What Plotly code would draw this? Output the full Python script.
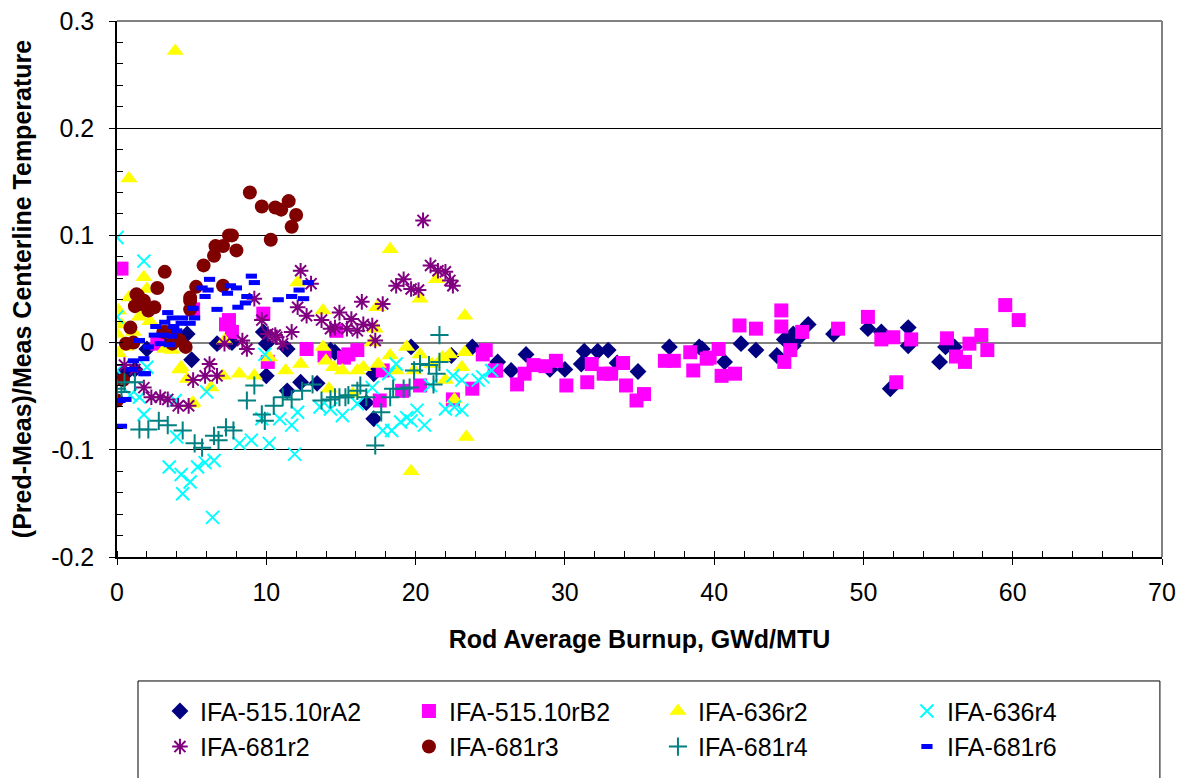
import plotly.graph_objects as go

# Rod average burnup (GWd/MTU) and (Pred-Meas)/Meas centerline temperature per rod
a2_burnup = [0.5, 1.2, 2.0, 3.0, 4.7, 5.0, 6.7, 7.7, 9.8, 10.0, 11.4, 10.0, 11.4, 12.3, 13.4, 14.6,
             14.3, 16.7, 17.2, 17.2, 19.7, 22.4, 23.8, 25.5, 26.4, 27.4, 29.0, 30.0, 31.1, 31.3,
             32.2, 32.9, 33.5, 34.9, 37.0, 39.0, 39.2, 40.7, 41.8, 42.8, 44.2, 44.7, 45.3, 45.3,
             45.7, 46.3, 48.0, 50.3, 51.2, 51.8, 53.0, 53.0, 55.1, 55.5, 56.1]
a2_error = [-0.03, -0.025, -0.006, 0.0, 0.008, -0.016, -0.001, 0.0, 0.01, -0.001, -0.006, -0.031,
            -0.045, -0.037, -0.038, -0.009, -0.007, -0.056, -0.029, -0.071, -0.004, -0.012, -0.004,
            -0.018, -0.026, -0.011, -0.025, -0.025, -0.02, -0.008, -0.008, -0.007, -0.019, -0.027,
            -0.004, -0.004, -0.006, -0.018, -0.001, -0.007, -0.012, 0.003, 0.008, -0.003, 0.005,
            0.017, 0.008, 0.013, 0.01, -0.043, 0.014, -0.003, -0.018, -0.004, -0.004]

b2_burnup = [0.3, 2.7, 5.1, 7.3, 7.5, 7.7, 9.8, 10.1, 12.7, 13.9, 14.7, 15.2, 15.5, 16.1, 17.6, 17.8,
             19.1, 20.3, 22.5, 23.8, 24.5, 24.7, 25.3, 25.4, 26.8, 27.3, 27.9, 28.7, 29.4, 30.1,
             31.5, 31.8, 32.6, 33.1, 33.9, 34.1, 34.8, 35.3, 36.7, 37.3, 38.4, 38.6, 39.5, 39.7,
             40.3, 40.5, 41.4, 41.7, 42.8, 44.5, 44.5, 44.7, 45.1, 45.9, 48.3, 50.3, 51.2, 52.0,
             52.2, 53.2, 55.6, 56.2, 56.8, 57.1, 57.9, 58.3, 59.5, 60.4]
b2_error = [0.069, -0.001, 0.031, 0.017, 0.021, 0.01, 0.027, -0.018, -0.006, -0.012, 0.011, -0.014,
            -0.011, -0.007, -0.054, -0.026, -0.045, -0.04, -0.053, -0.043, -0.011, -0.007, -0.026,
            -0.026, -0.039, -0.029, -0.021, -0.022, -0.017, -0.04, -0.037, -0.02, -0.029, -0.029,
            -0.019, -0.04, -0.054, -0.048, -0.017, -0.017, -0.009, -0.026, -0.015, -0.014, -0.006,
            -0.031, -0.029, 0.016, 0.013, 0.03, 0.015, -0.018, -0.007, 0.01, 0.013, 0.024, 0.003,
            0.005, -0.037, 0.003, 0.004, -0.013, -0.018, -0.001, 0.007, -0.007, 0.035, 0.021]

r636_2_burnup = [3.9, 0.8, 1.8, 0.8, 0.0, 0.1, 0.3, 1.5, 2.2, 3.2, 3.7, 4.3, 5.0, 4.7, 6.3, 7.1,
                 8.2, 9.2, 10.2, 11.3, 12.1, 13.8, 12.3, 13.8, 14.0, 15.1, 14.2, 16.1, 7.2, 4.2,
                 5.1, 18.3, 20.3, 21.4, 17.4, 23.3, 17.3, 17.1, 19.4, 18.3, 23.3, 22.3, 21.8, 20.3,
                 14.5, 16.5, 17.5, 18.7, 19.9, 21.1, 22.0, 23.1, 22.6, 23.4, 19.7, 15.8,
                 0.1, 1.1, 2.0, 0.6]
r636_2_error = [0.272, 0.153, 0.061, 0.042, 0.008, -0.01, 0.017, 0.024, 0.02, -0.006, -0.007, -0.023,
                -0.057, -0.034, -0.042, -0.031, -0.029, -0.031, -0.014, -0.026, 0.056, 0.03, -0.02,
                -0.004, -0.017, -0.026, -0.043, -0.026, 0.002, -0.025, -0.056, 0.087, 0.041, 0.059,
                0.033, 0.025, 0.013, 0.0, -0.004, -0.012, -0.009, -0.011, -0.014, -0.011, -0.023,
                -0.023, -0.02, -0.026, -0.026, -0.02, -0.035, -0.023, -0.053, -0.088, -0.12, -0.048,
                0.03, 0.01, 0.05, -0.004]

r636_4_burnup = [0.0, 1.8, 0.0, 2.0, 0.0, 0.9, 1.5, 1.8, 3.9, 4.0, 6.0, 3.5, 4.3, 4.9, 5.4, 5.9,
                 6.5, 4.4, 6.4, 8.2, 9.0, 10.2, 11.9, 9.7, 10.9, 11.7, 12.1, 9.9, 13.6, 15.1, 14.3,
                 16.1, 17.1, 17.8, 18.4, 18.7, 18.2, 19.0, 19.4, 19.7, 20.1, 20.6, 21.0, 22.0, 22.6,
                 23.1, 22.5, 23.1, 24.2, 24.5, 25.1]
r636_4_error = [0.098, 0.076, 0.024, -0.023, -0.026, -0.049, -0.051, -0.067, -0.054, -0.088, -0.046,
                -0.116, -0.123, -0.13, -0.116, -0.112, -0.11, -0.141, -0.163, -0.094, -0.091, -0.094,
                -0.104, -0.071, -0.071, -0.077, -0.065, -0.011, -0.06, -0.068, -0.062, -0.057,
                -0.042, -0.082, -0.082, -0.02, -0.029, -0.074, -0.07, -0.073, -0.063, -0.077, -0.04,
                -0.062, -0.06, -0.063, -0.031, -0.035, -0.035, -0.032, -0.026]

r681_2_burnup = [20.5, 21.0, 21.5, 22.0, 22.3, 22.5, 19.2, 18.7, 19.7, 20.2, 16.4, 17.8, 14.9, 15.7,
                 16.5, 17.1, 14.6, 15.4, 16.1, 17.3, 12.3, 13.0, 9.2, 12.1, 12.7, 13.7, 14.3, 11.7,
                 9.7, 10.1, 10.7, 11.1, 8.4, 8.7, 7.2, 6.2, 5.1, 5.9, 6.7, 0.5, 1.2, 1.8, 2.3, 2.9,
                 3.4, 4.1, 4.8, 0.0, 10.6]
r681_2_error = [0.114, 0.072, 0.067, 0.066, 0.058, 0.053, 0.059, 0.053, 0.05, 0.049, 0.038, 0.036,
                0.028, 0.022, 0.017, 0.016, 0.014, 0.013, 0.011, 0.002, 0.067, 0.055, 0.041, 0.033,
                0.025, 0.021, 0.013, 0.01, 0.021, 0.008, 0.005, -0.001, 0.002, -0.006, -0.001, -0.02,
                -0.035, -0.031, -0.031, -0.021, -0.025, -0.042, -0.051, -0.051, -0.053, -0.059,
                -0.059, -0.035, 0.007]

r681_3_burnup = [8.9, 9.7, 10.6, 11.0, 11.5, 12.0, 11.7, 10.3, 7.5, 7.7, 6.6, 7.1, 6.5, 8.0, 5.8, 3.2,
                 2.7, 5.3, 7.1, 4.9, 1.3, 1.4, 1.8, 1.2, 2.1, 2.5, 4.9, 4.9, 0.9, 0.6, 0.0, 0.4, 4.2,
                 4.6, 3.9, 3.3, 1.1, 1.6, 3.7, 3.1]
r681_3_error = [0.14, 0.127, 0.126, 0.124, 0.132, 0.119, 0.108, 0.096, 0.1, 0.1, 0.09, 0.09, 0.081,
                0.086, 0.072, 0.066, 0.051, 0.052, 0.053, 0.042, 0.045, 0.044, 0.039, 0.034, 0.03,
                0.033, 0.039, 0.031, 0.014, -0.001, -0.054, -0.035, 0.002, -0.004, 0.007, 0.01, 0.0,
                0.036, -0.001, 0.01]

r681_4_burnup = [0.0, 0.5, 1.2, 0.3, 1.5, 2.1, 2.8, 3.4, 4.4, 5.2, 5.7, 6.5, 6.8, 7.3, 7.8, 8.7, 9.2,
                 9.7, 9.9, 10.5, 11.1, 11.7, 12.4, 13.1, 13.7, 14.3, 14.9, 15.5, 16.1, 14.6, 15.3,
                 16.3, 16.7, 17.7, 17.3, 18.3, 18.5, 19.2, 19.6, 19.9, 20.3, 20.9, 21.4, 21.6, 21.2,
                 21.6]
r681_4_error = [-0.043, -0.037, -0.037, -0.046, -0.081, -0.081, -0.073, -0.077, -0.082, -0.094,
                -0.098, -0.087, -0.091, -0.079, -0.082, -0.054, -0.04, -0.067, -0.073, -0.059, -0.051,
                -0.053, -0.045, -0.039, -0.054, -0.053, -0.051, -0.049, -0.045, -0.051, -0.051, -0.04,
                -0.051, -0.065, -0.096, -0.051, -0.043, -0.043, -0.042, -0.026, -0.02, -0.021, -0.029,
                -0.018, -0.039, 0.007]

r681_6_burnup = [6.2, 9.0, 9.2, 5.7, 6.1, 5.9, 7.6, 8.0, 7.4, 8.7, 10.8, 11.7, 12.5, 12.2, 12.8, 6.7,
                 8.6, 8.1, 3.4, 3.7, 3.2, 4.4, 4.9, 4.3, 5.2, 2.6, 3.8, 4.0, 2.5, 3.1, 3.7, 2.9, 3.5,
                 2.1, 1.5, 1.8, 1.1, 1.8, 1.9, 1.0, 0.2, 0.6, 0.3, 5.1]
r681_6_error = [0.059, 0.062, 0.056, 0.051, 0.049, 0.043, 0.053, 0.051, 0.046, 0.043, 0.04, 0.043,
                0.041, 0.049, 0.056, 0.031, 0.037, 0.033, 0.028, 0.023, 0.019, 0.023, 0.018, 0.018,
                0.023, 0.015, 0.015, 0.011, 0.007, 0.007, 0.006, -0.001, -0.002, -0.004, 0.002,
                -0.015, -0.017, -0.029, -0.029, -0.025, -0.054, -0.053, -0.078, 0.032]

x_ticks = [0, 10, 20, 30, 40, 50, 60, 70]
x_tick_text = ["0", "10", "20", "30", "40", "50", "60", "70"]
y_ticks = [-0.2, -0.1, 0.0, 0.1, 0.2, 0.3]
y_tick_text = ["-0.2", "-0.1", "0", "0.1", "0.2", "0.3"]

FONT = "Liberation Sans, Arial, sans-serif"

series = [
    ("IFA-515.10rA2", a2_burnup, a2_error,
     dict(symbol="diamond", size=13, color="#000080")),
    ("IFA-515.10rB2", b2_burnup, b2_error,
     dict(symbol="square", size=14, color="#FF00FF")),
    ("IFA-636r2", r636_2_burnup, r636_2_error,
     dict(symbol="triangle-up", size=15, color="#FFFF00")),
    ("IFA-636r4", r636_4_burnup, r636_4_error,
     dict(symbol="x-thin-open", size=13, color="#00FFFF", line=dict(width=2, color="#00FFFF"))),
    ("IFA-681r2", r681_2_burnup, r681_2_error,
     dict(symbol="asterisk-open", size=13, color="#800080", line=dict(width=2, color="#800080"))),
    ("IFA-681r3", r681_3_burnup, r681_3_error,
     dict(symbol="circle", size=14, color="#800000")),
    ("IFA-681r4", r681_4_burnup, r681_4_error,
     dict(symbol="cross-thin-open", size=13, color="#008080", line=dict(width=2, color="#008080"))),
    ("IFA-681r6", r681_6_burnup, r681_6_error,
     dict(symbol="line-ew-open", size=8, color="#0000FF", line=dict(width=5, color="#0000FF"))),
]

fig = go.Figure()
for name, xs, ys, marker in series:
    fig.add_trace(go.Scatter(x=xs, y=ys, mode="markers", name=name, marker=marker))

fig.update_layout(
    width=1182, height=778,
    margin=dict(l=117, r=20, t=21, b=221, autoexpand=False),
    paper_bgcolor="white", plot_bgcolor="white",
    font=dict(family=FONT, size=24, color="black"),
    showlegend=True,
    legend=dict(
        orientation="h", x=0.0411, xanchor="left", y=-0.245, yanchor="top",
        entrywidth=204, entrywidthmode="pixels",
        borderwidth=0, bgcolor="rgba(0,0,0,0)",
        font=dict(family=FONT, size=25, color="black"),
        itemsizing="trace",
    ),
)

fig.update_xaxes(
    range=[0, 70], tickvals=x_ticks, ticktext=x_tick_text,
    showline=True, linecolor="black", linewidth=1.5,
    ticks="outside", ticklen=6, tickcolor="black", tickwidth=1,
    minor=dict(dtick=2, ticks="inside", ticklen=6, tickcolor="black", showgrid=False),
    showgrid=False, zeroline=False, ticklabelstandoff=6,
    tickfont=dict(family=FONT, size=25),
    title=dict(text="<b>Rod Average Burnup, GWd/MTU</b>", standoff=26,
               font=dict(family=FONT, size=25)),
)

fig.update_yaxes(
    range=[-0.2, 0.3], tickvals=y_ticks, ticktext=y_tick_text,
    showline=True, linecolor="black", linewidth=1.5,
    ticks="outside", ticklen=6, tickcolor="black", tickwidth=1,
    minor=dict(dtick=0.02, ticks="inside", ticklen=6, tickcolor="black", showgrid=False),
    showgrid=True, gridcolor="black", gridwidth=1,
    zeroline=True, zerolinecolor="#808080", zerolinewidth=2,
    ticklabelstandoff=10,
    tickfont=dict(family=FONT, size=25),
    title=dict(text="<b>(Pred-Meas)/Meas Centerline Temperature</b>", standoff=12,
               font=dict(family=FONT, size=25)),
)

# Grey frame on the top and right sides of the plotting area
fig.add_shape(type="line", xref="paper", yref="paper", x0=0, x1=1, y0=1, y1=1,
              line=dict(color="#808080", width=2))
fig.add_shape(type="line", xref="paper", yref="paper", x0=1, x1=1, y0=0, y1=1,
              line=dict(color="#808080", width=2))
# Legend box, running past the bottom edge of the page
fig.add_shape(type="rect", xref="paper", yref="paper", x0=0.0201, x1=0.998,
              y0=-0.2313, y1=-0.44, line=dict(color="black", width=1),
              fillcolor="rgba(0,0,0,0)")

fig.write_html("out.html")
